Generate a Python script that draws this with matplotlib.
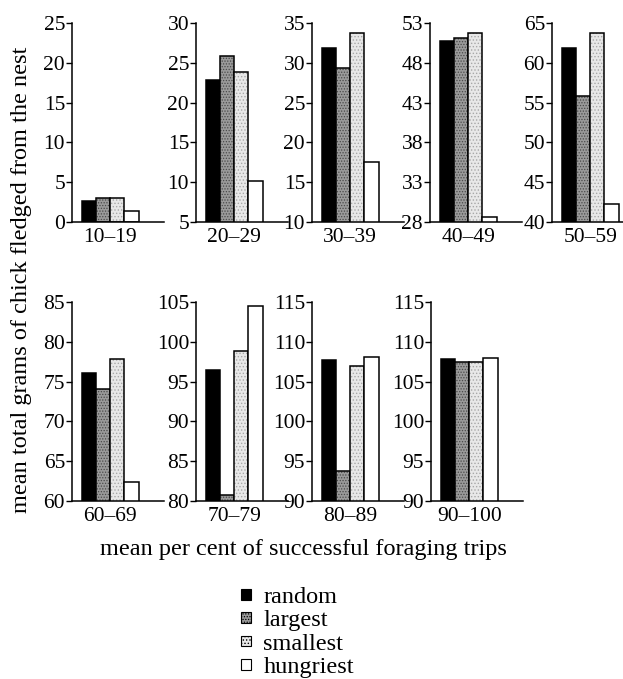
import matplotlib.pyplot as plt
from matplotlib.patches import Patch

plt.rcParams['font.family'] = ['Liberation Serif', 'DejaVu Serif']
plt.rcParams['hatch.linewidth'] = 0.6

# Data
groups = ['10–19', '20–29', '30–39', '40–49', '50–59',
          '60–69', '70–79', '80–89', '90–100']
random_ = [2.7, 22.8, 31.8, 50.8, 61.8, 76.1, 96.5, 107.7, 107.9]
largest = [3.0, 25.8, 29.4, 51.1, 55.8, 74.1, 80.8, 93.8, 107.5]
smallest = [3.0, 23.8, 33.7, 51.7, 63.7, 77.8, 98.8, 107.0, 107.5]
hungriest = [1.4, 10.2, 17.5, 28.6, 42.3, 62.4, 104.5, 108.1, 108.0]
y_min = [0, 5, 10, 28, 40, 60, 80, 90, 90]
y_max = [25, 30, 35, 53, 65, 85, 105, 115, 115]
labels = ['random', 'largest', 'smallest', 'hungriest']

# face colour, hatch colour, hatch
styles = [('black', 'black', None),
          ('#9a9a9a', '#4a4a4a', '......'),
          ('#e8e8e8', '#a8a8a8', '.....'),
          ('white', 'white', None)]

W, H = 623, 679
fig = plt.figure(figsize=(W / 100, H / 100), dpi=100)

lefts = [72, 196, 312, 430, 552, 72, 196, 312, 431]
tops = [23] * 5 + [302] * 4
ax_w, ax_h = 92, 199

for i, g in enumerate(groups):
    ax = fig.add_axes([lefts[i] / W, 1 - (tops[i] + ax_h) / H, ax_w / W, ax_h / H])
    vals = [random_[i], largest[i], smallest[i], hungriest[i]]
    for j, v in enumerate(vals):
        fc, hc, hatch = styles[j]
        ax.bar(j, v, width=1, color=fc, edgecolor=hc, hatch=hatch, linewidth=0)
        ax.bar(j, v, width=1, fill=False, edgecolor='black', linewidth=1.1)
    ax.set_xlim(-1.2, 5.3)
    ax.set_ylim(y_min[i], y_max[i])
    ax.set_yticks(range(y_min[i], y_max[i] + 1, 5))
    ax.set_xticks([1.5])
    ax.set_xticklabels([g])
    ax.tick_params(axis='x', length=0, pad=4, labelsize=15.5)
    ax.tick_params(axis='y', length=4, width=1, pad=1, labelsize=15.5, direction='out')
    for s in ['top', 'right']:
        ax.spines[s].set_visible(False)
    for s in ['left', 'bottom']:
        ax.spines[s].set_linewidth(1.1)

fig.text(303 / W, 1 - 550 / H, 'mean per cent of successful foraging trips',
         ha='center', va='center', fontsize=17.5)
fig.text(22 / W, 1 - 280 / H, 'mean total grams of chick fledged from the nest',
         ha='center', va='center', rotation=90, fontsize=17.5)

handles = [Patch(facecolor=fc, edgecolor='black', hatch=hatch if hatch else None,
                 linewidth=0.8) for fc, hc, hatch in styles]
fig.legend(handles, labels, loc='upper left', bbox_to_anchor=(241 / W, 1 - 587 / H),
           frameon=False, fontsize=17.5, handlelength=0.42, handleheight=0.3,
           handletextpad=0.5, labelspacing=0.1, borderpad=0, borderaxespad=0)

fig.savefig('out.png', dpi=100)
